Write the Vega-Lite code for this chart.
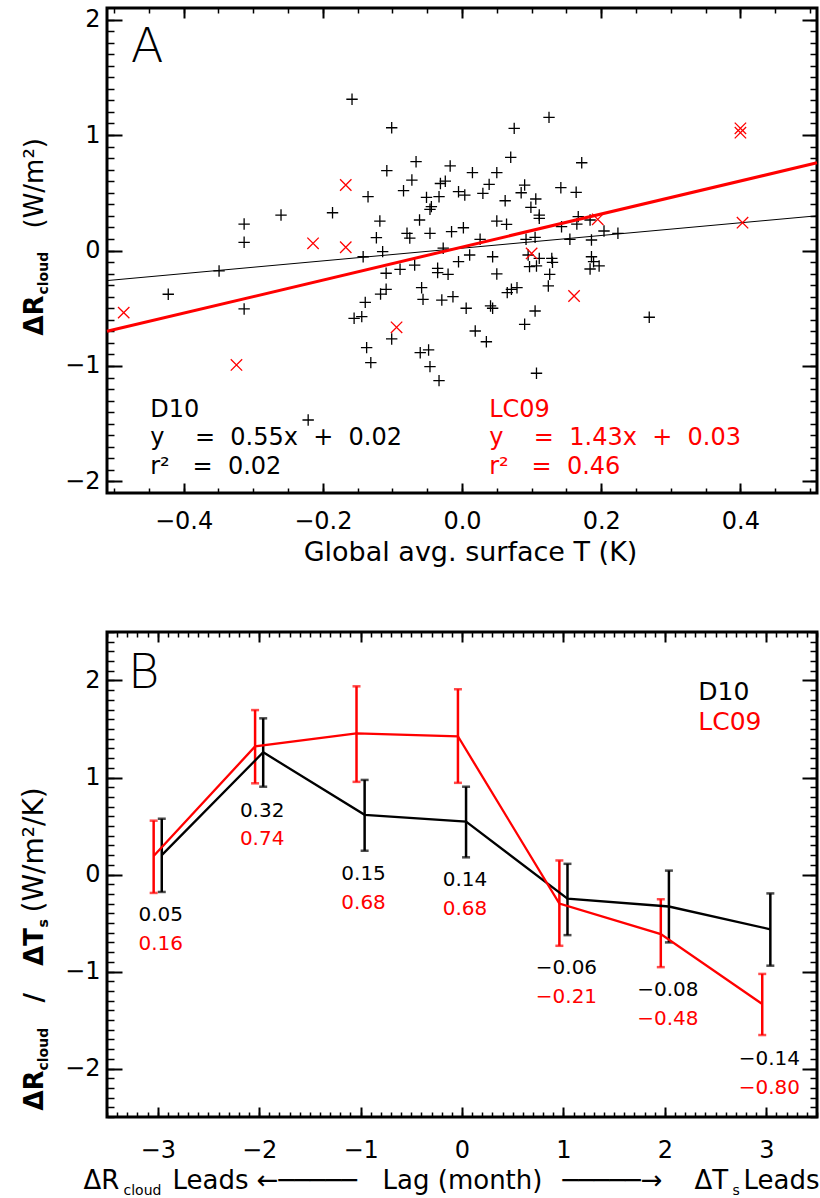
{
"$schema":"https://vega.github.io/schema/vega-lite/v6.json",
"autosize":{"type":"none"},
"padding":{"left":107,"top":8,"right":713,"bottom":1190},
"background":"white",
"spacing":139,
"bounds":"flush",
"config":{
 "view":{"stroke":"black","strokeWidth":3},
 "axis":{"grid":false,"domain":false,"labelFont":"DejaVu Sans","titleFont":"DejaVu Sans","labelColor":"black","titleColor":"black","tickColor":"black","labelFontSize":24,"titleFontSize":26,"titleFontWeight":"normal","labelFlush":false,"labelOverlap":false},
 "text":{"font":"DejaVu Sans"}
},
"vconcat":[
{
 "width":710,"height":485,
 "resolve":{"axis":{"x":"independent","y":"independent"}},
 "layer":[
  {
   "data":{"values":[
{"x":-0.158,"y":1.31},{"x":-0.101,"y":1.063},{"x":-0.066,"y":0.769},{"x":-0.017,"y":0.732},{"x":-0.108,"y":0.691},{"x":-0.072,"y":0.61},{"x":-0.024,"y":0.6},{"x":-0.031,"y":0.58},{"x":-0.084,"y":0.518},{"x":-0.005,"y":0.509},{"x":-0.135,"y":0.466},{"x":-0.051,"y":0.46},{"x":-0.033,"y":0.466},{"x":-0.044,"y":0.38},{"x":-0.046,"y":0.357},{"x":-0.186,"y":0.327},{"x":-0.26,"y":0.307},{"x":-0.061,"y":0.264},{"x":-0.118,"y":0.255},{"x":-0.313,"y":0.229},{"x":-0.079,"y":0.149},{"x":-0.046,"y":0.149},{"x":-0.015,"y":0.163},{"x":-0.075,"y":0.108},{"x":-0.123,"y":0.111},{"x":-0.313,"y":0.071},{"x":-0.114,"y":-0.01},{"x":-0.142,"y":-0.054},
{"x":0.125,"y":1.153},{"x":0.075,"y":1.058},{"x":0.07,"y":0.807},{"x":0.172,"y":0.76},{"x":0.015,"y":0.674},{"x":0.05,"y":0.674},{"x":0.039,"y":0.573},{"x":0.09,"y":0.567},{"x":0.142,"y":0.544},{"x":0.004,"y":0.48},{"x":0.03,"y":0.495},{"x":0.085,"y":0.5},{"x":0.164,"y":0.504},{"x":0.106,"y":0.446},{"x":0.062,"y":0.431},{"x":0.099,"y":0.374},{"x":0.111,"y":0.307},{"x":0.111,"y":0.279},{"x":0.05,"y":0.255},{"x":0.064,"y":0.227},{"x":0.167,"y":0.293},{"x":0.184,"y":0.264},{"x":0.143,"y":0.206},{"x":0.165,"y":0.229},{"x":0.002,"y":0.197},{"x":0.204,"y":0.169},{"x":0.224,"y":0.149},{"x":0.026,"y":0.097},{"x":0.092,"y":0.097},{"x":0.105,"y":0.114},{"x":0.155,"y":0.097},{"x":0.186,"y":0.091},{"x":-0.027,"y":0.02},{"x":0.011,"y":-0.039},{"x":0.044,"y":-0.054},{"x":0.129,"y":-0.068},{"x":0.186,"y":-0.054},
{"x":-0.349,"y":-0.177},{"x":-0.422,"y":-0.379},{"x":-0.313,"y":-0.506},{"x":-0.109,"y":-0.197},{"x":-0.089,"y":-0.163},{"x":-0.068,"y":-0.126},{"x":-0.035,"y":-0.154},{"x":-0.035,"y":-0.192},{"x":-0.02,"y":-0.206},{"x":-0.005,"y":-0.097},{"x":-0.058,"y":-0.322},{"x":-0.056,"y":-0.423},{"x":-0.139,"y":-0.449},{"x":-0.109,"y":-0.336},{"x":-0.117,"y":-0.377},{"x":-0.155,"y":-0.587},{"x":-0.144,"y":-0.573},{"x":-0.101,"y":-0.766},{"x":-0.137,"y":-0.841},{"x":-0.131,"y":-0.971},{"x":-0.06,"y":-0.885},{"x":-0.048,"y":-0.861},{"x":-0.046,"y":-1.006},{"x":-0.033,"y":-1.127},{"x":-0.029,"y":-0.429},{"x":-0.013,"y":-0.4},{"x":-0.221,"y":-1.468},
{"x":0.05,"y":-0.203},{"x":0.097,"y":-0.14},{"x":0.107,"y":-0.134},{"x":0.13,"y":-0.102},{"x":0.126,"y":-0.206},{"x":0.124,"y":-0.307},{"x":0.189,"y":-0.097},{"x":0.184,"y":-0.16},{"x":0.197,"y":-0.134},{"x":0.006,"y":-0.5},{"x":0.041,"y":-0.48},{"x":0.044,"y":-0.5},{"x":0.065,"y":-0.365},{"x":0.071,"y":-0.336},{"x":0.079,"y":-0.322},{"x":0.105,"y":-0.524},{"x":0.09,"y":-0.639},{"x":0.019,"y":-0.697},{"x":0.035,"y":-0.79},{"x":0.107,"y":-1.063},{"x":0.269,"y":-0.578},{"x":0.095,"y":-0.039},{"x":0.111,"y":-0.068}
   ]},
   "mark":{"type":"point","shape":"M-1,0H1M0,-1V1","filled":false,"stroke":"black","strokeWidth":1.3,"size":130,"opacity":1},
   "encoding":{
    "x":{"field":"x","type":"quantitative","scale":{"domain":[-0.51,0.51],"nice":false,"zero":false},
     "axis":{"orient":"bottom","values":[-0.4,-0.2,0,0.2,0.4],"format":".1f","ticks":false,"labelPadding":16,"title":"Global avg. surface T (K)","titleFontSize":27,"titleX":363,"titleY":67,"titleAlign":"center","titleBaseline":"alphabetic","titleAngle":0}},
    "y":{"field":"y","type":"quantitative","scale":{"domain":[-2.1,2.1],"nice":false,"zero":false},
     "axis":{"orient":"left","values":[-2,-1,0,1,2],"format":"d","ticks":false,"labelPadding":7,"title":"ΔR","titleFontWeight":"bold","titleFontSize":26,"titleX":-65,"titleY":327,"titleAngle":-90,"titleAlign":"left","titleBaseline":"alphabetic"}}
   }
  },
  {
   "data":{"values":[{"x":-0.51,"y":-0.2605},{"x":0.51,"y":0.3005}]},
   "mark":{"type":"line","color":"black","strokeWidth":1},
   "encoding":{
    "x":{"field":"x","type":"quantitative","scale":{"domain":[-0.51,0.51],"nice":false,"zero":false},
     "axis":{"orient":"bottom","values":[-0.4,-0.2,0,0.2,0.4],"labels":false,"tickSize":10,"offset":-10,"tickWidth":2,"title":null}},
    "y":{"field":"y","type":"quantitative","scale":{"domain":[-2.1,2.1],"nice":false,"zero":false},
     "axis":{"orient":"left","values":[-2,-1,0,1,2],"labels":false,"tickSize":15,"offset":-15,"tickWidth":2,"title":"cloud","titleFontWeight":"bold","titleFontSize":14,"titleX":-75,"titleY":286,"titleAngle":-90,"titleAlign":"left","titleBaseline":"alphabetic"}}
   }
  },
  {
   "data":{"values":[{"x":-0.51,"y":-0.7},{"x":0.51,"y":0.7593}]},
   "mark":{"type":"line","color":"#ff0000","strokeWidth":3},
   "encoding":{
    "x":{"field":"x","type":"quantitative","scale":{"domain":[-0.51,0.51],"nice":false,"zero":false},
     "axis":{"orient":"bottom","values":[-0.5,-0.45,-0.4,-0.35,-0.3,-0.25,-0.2,-0.15,-0.1,-0.05,0,0.05,0.1,0.15,0.2,0.25,0.3,0.35,0.4,0.45,0.5],"labels":false,"tickSize":5,"offset":-5,"tickWidth":1.5,"title":null}},
    "y":{"field":"y","type":"quantitative","scale":{"domain":[-2.1,2.1],"nice":false,"zero":false},
     "axis":{"orient":"left","values":[-2,-1.9,-1.8,-1.7,-1.6,-1.5,-1.4,-1.3,-1.2,-1.1,-1,-0.9,-0.8,-0.7,-0.6,-0.5,-0.4,-0.3,-0.2,-0.1,0,0.1,0.2,0.3,0.4,0.5,0.6,0.7,0.8,0.9,1,1.1,1.2,1.3,1.4,1.5,1.6,1.7,1.8,1.9,2],"labels":false,"tickSize":7,"offset":-7,"tickWidth":1.5,"title":"(W/m²)","titleFontSize":26,"titleX":-72,"titleY":220,"titleAngle":-90,"titleAlign":"left","titleBaseline":"alphabetic"}}
   }
  },
  {
   "data":{"values":[{"x":-0.167,"y":0.567},{"x":-0.214,"y":0.062},{"x":-0.167,"y":0.028},{"x":0.4,"y":1.058},{"x":0.4,"y":1.02},{"x":0.403,"y":0.241},{"x":0.195,"y":0.27},{"x":0.1,"y":-0.025},{"x":-0.486,"y":-0.538},{"x":-0.324,"y":-0.991},{"x":-0.094,"y":-0.665},{"x":0.161,"y":-0.394}]},
   "mark":{"type":"point","shape":"M-1,-1L1,1M-1,1L1,-1","filled":false,"stroke":"#ff0000","strokeWidth":1.3,"size":130,"opacity":1},
   "encoding":{
    "x":{"field":"x","type":"quantitative","scale":{"domain":[-0.51,0.51],"nice":false,"zero":false},
     "axis":{"orient":"top","values":[-0.4,-0.2,0,0.2,0.4],"labels":false,"tickSize":10,"offset":-10,"tickWidth":2,"title":null}},
    "y":{"field":"y","type":"quantitative","scale":{"domain":[-2.1,2.1],"nice":false,"zero":false},
     "axis":{"orient":"right","values":[-2,-1,0,1,2],"labels":false,"tickSize":15,"offset":-15,"tickWidth":2,"title":null}}
   }
  },
  {
   "data":{"values":[
    {"series":"D10","x":-0.448,"y":-1.439,"label":"D10"},
    {"series":"D10","x":-0.448,"y":-1.684,"label":"y\u00a0\u00a0\u00a0\u00a0=\u00a0\u00a00.55x\u00a0\u00a0+\u00a0\u00a00.02"},
    {"series":"D10","x":-0.448,"y":-1.935,"label":"r²\u00a0\u00a0\u00a0=\u00a0\u00a00.02"},
    {"series":"LC09","x":0.039,"y":-1.439,"label":"LC09"},
    {"series":"LC09","x":0.039,"y":-1.684,"label":"y\u00a0\u00a0\u00a0\u00a0=\u00a0\u00a01.43x\u00a0\u00a0+\u00a0\u00a00.03"},
    {"series":"LC09","x":0.039,"y":-1.935,"label":"r²\u00a0\u00a0\u00a0=\u00a0\u00a00.46"}
   ]},
   "mark":{"type":"text","fontSize":24,"align":"left","baseline":"alphabetic","font":"DejaVu Sans"},
   "encoding":{
    "x":{"field":"x","type":"quantitative","scale":{"domain":[-0.51,0.51],"nice":false,"zero":false},
     "axis":{"orient":"top","values":[-0.5,-0.45,-0.4,-0.35,-0.3,-0.25,-0.2,-0.15,-0.1,-0.05,0,0.05,0.1,0.15,0.2,0.25,0.3,0.35,0.4,0.45,0.5],"labels":false,"tickSize":5,"offset":-5,"tickWidth":1.5,"title":null}},
    "y":{"field":"y","type":"quantitative","scale":{"domain":[-2.1,2.1],"nice":false,"zero":false},
     "axis":{"orient":"right","values":[-2,-1.9,-1.8,-1.7,-1.6,-1.5,-1.4,-1.3,-1.2,-1.1,-1,-0.9,-0.8,-0.7,-0.6,-0.5,-0.4,-0.3,-0.2,-0.1,0,0.1,0.2,0.3,0.4,0.5,0.6,0.7,0.8,0.9,1,1.1,1.2,1.3,1.4,1.5,1.6,1.7,1.8,1.9,2],"labels":false,"tickSize":7,"offset":-7,"tickWidth":1.5,"title":null}},
    "text":{"field":"label"},
    "color":{"field":"series","type":"nominal","scale":{"domain":["D10","LC09"],"range":["black","#ff0000"]},"legend":null}
   }
  },
  {
   "data":{"values":[{"x":-0.476,"y":1.635,"label":"A"}]},
   "mark":{"type":"text","fontSize":48,"fontWeight":200,"align":"left","baseline":"alphabetic","color":"black","font":"DejaVu Sans"},
   "encoding":{
    "x":{"field":"x","type":"quantitative","scale":{"domain":[-0.51,0.51],"nice":false,"zero":false},"axis":null},
    "y":{"field":"y","type":"quantitative","scale":{"domain":[-2.1,2.1],"nice":false,"zero":false},"axis":null},
    "text":{"field":"label"}
   }
  }
 ]
},
{
 "width":710,"height":485,
 "resolve":{"axis":{"x":"independent","y":"independent"}},
 "layer":[
  {
   "mark":{"type":"rule","strokeDash":[13,7],"strokeWidth":1.2,"color":"black"},
   "encoding":{"y":{"datum":0,"type":"quantitative","scale":{"domain":[-2.5,2.5],"nice":false,"zero":false},"axis":null}}
  },
  {
   "mark":{"type":"rule","strokeDash":[13,7],"strokeWidth":1.2,"color":"black"},
   "encoding":{"x":{"datum":0,"type":"quantitative","scale":{"domain":[-3.5,3.5],"nice":false,"zero":false},"axis":null}}
  },
  {
   "data":{"name":"eb","values":[
    {"series":"D10","x":-2.96,"v":0.2,"lo":-0.18,"hi":0.575},
    {"series":"D10","x":-1.96,"v":1.26,"lo":0.905,"hi":1.61},
    {"series":"D10","x":-0.96,"v":0.615,"lo":0.245,"hi":0.975},
    {"series":"D10","x":0.04,"v":0.545,"lo":0.177,"hi":0.905},
    {"series":"D10","x":1.04,"v":-0.25,"lo":-0.625,"hi":0.11},
    {"series":"D10","x":2.04,"v":-0.33,"lo":-0.7,"hi":0.04},
    {"series":"D10","x":3.04,"v":-0.565,"lo":-0.94,"hi":-0.195},
    {"series":"LC09","x":-3.04,"v":0.19,"lo":-0.19,"hi":0.555},
    {"series":"LC09","x":-2.04,"v":1.32,"lo":0.94,"hi":1.695},
    {"series":"LC09","x":-1.04,"v":1.455,"lo":0.955,"hi":1.94},
    {"series":"LC09","x":-0.04,"v":1.425,"lo":0.945,"hi":1.91},
    {"series":"LC09","x":0.96,"v":-0.3,"lo":-0.735,"hi":0.145},
    {"series":"LC09","x":1.96,"v":-0.615,"lo":-0.955,"hi":-0.255},
    {"series":"LC09","x":2.96,"v":-1.335,"lo":-1.655,"hi":-1.025}
   ]},
   "mark":{"type":"rule","strokeWidth":2.5},
   "encoding":{
    "x":{"field":"x","type":"quantitative","scale":{"domain":[-3.5,3.5],"nice":false,"zero":false},
     "axis":{"orient":"bottom","values":[-3,-2,-1,0,1,2,3],"format":"d","ticks":false,"labelPadding":21,"title":"ΔR","titleFontSize":26,"titleX":-24,"titleY":71,"titleAlign":"left","titleBaseline":"alphabetic","titleAngle":0}},
    "y":{"field":"lo","type":"quantitative","scale":{"domain":[-2.5,2.5],"nice":false,"zero":false},
     "axis":{"orient":"left","values":[-2,-1,0,1,2],"format":"d","ticks":false,"labelPadding":7,"title":"ΔR","titleFontWeight":"bold","titleFontSize":26,"titleX":-65,"titleY":478,"titleAngle":-90,"titleAlign":"left","titleBaseline":"alphabetic"}},
    "y2":{"field":"hi"},
    "color":{"field":"series","type":"nominal","scale":{"domain":["D10","LC09"],"range":["black","#ff0000"]},"legend":null}
   }
  },
  {
   "data":{"name":"eb"},
   "mark":{"type":"tick","orient":"horizontal","size":8,"thickness":2.5},
   "encoding":{
    "x":{"field":"x","type":"quantitative","scale":{"domain":[-3.5,3.5],"nice":false,"zero":false},
     "axis":{"orient":"bottom","values":[-3,-2,-1,0,1,2,3],"labels":false,"tickSize":10,"offset":-10,"tickWidth":2,"title":"cloud","titleFontSize":14,"titleX":16,"titleY":87,"titleAlign":"left","titleBaseline":"alphabetic","titleAngle":0}},
    "y":{"field":"lo","type":"quantitative","scale":{"domain":[-2.5,2.5],"nice":false,"zero":false},
     "axis":{"orient":"left","values":[-2,-1,0,1,2],"labels":false,"tickSize":15,"offset":-15,"tickWidth":2,"title":"cloud","titleFontWeight":"bold","titleFontSize":14,"titleX":-75,"titleY":438,"titleAngle":-90,"titleAlign":"left","titleBaseline":"alphabetic"}},
    "color":{"field":"series","type":"nominal","scale":{"domain":["D10","LC09"],"range":["black","#ff0000"]},"legend":null}
   }
  },
  {
   "data":{"name":"eb"},
   "mark":{"type":"tick","orient":"horizontal","size":8,"thickness":2.5},
   "encoding":{
    "x":{"field":"x","type":"quantitative","scale":{"domain":[-3.5,3.5],"nice":false,"zero":false},
     "axis":{"orient":"bottom","values":[-3.5,-3.4,-3.3,-3.2,-3.1,-3,-2.9,-2.8,-2.7,-2.6,-2.5,-2.4,-2.3,-2.2,-2.1,-2,-1.9,-1.8,-1.7,-1.6,-1.5,-1.4,-1.3,-1.2,-1.1,-1,-0.9,-0.8,-0.7,-0.6,-0.5,-0.4,-0.3,-0.2,-0.1,0,0.1,0.2,0.3,0.4,0.5,0.6,0.7,0.8,0.9,1,1.1,1.2,1.3,1.4,1.5,1.6,1.7,1.8,1.9,2,2.1,2.2,2.3,2.4,2.5,2.6,2.7,2.8,2.9,3,3.1,3.2,3.3,3.4,3.5],"labels":false,"tickSize":5,"offset":-5,"tickWidth":1.5,"title":"Leads\u00a0←─────","titleFontSize":26,"titleX":65,"titleY":76,"titleAlign":"left","titleBaseline":"alphabetic","titleAngle":0}},
    "y":{"field":"hi","type":"quantitative","scale":{"domain":[-2.5,2.5],"nice":false,"zero":false},
     "axis":{"orient":"left","values":[-2.5,-2.4,-2.3,-2.2,-2.1,-2,-1.9,-1.8,-1.7,-1.6,-1.5,-1.4,-1.3,-1.2,-1.1,-1,-0.9,-0.8,-0.7,-0.6,-0.5,-0.4,-0.3,-0.2,-0.1,0,0.1,0.2,0.3,0.4,0.5,0.6,0.7,0.8,0.9,1,1.1,1.2,1.3,1.4,1.5,1.6,1.7,1.8,1.9,2,2.1,2.2,2.3,2.4,2.5],"labels":false,"tickSize":7,"offset":-7,"tickWidth":1.5,"title":"/\u00a0\u00a0\u00a0ΔT","titleFontWeight":"bold","titleFontSize":26,"titleX":-72,"titleY":370,"titleAngle":-90,"titleAlign":"left","titleBaseline":"alphabetic"}},
    "color":{"field":"series","type":"nominal","scale":{"domain":["D10","LC09"],"range":["black","#ff0000"]},"legend":null}
   }
  },
  {
   "data":{"name":"eb"},
   "mark":{"type":"line","strokeWidth":2.3},
   "encoding":{
    "x":{"field":"x","type":"quantitative","scale":{"domain":[-3.5,3.5],"nice":false,"zero":false},
     "axis":{"orient":"top","values":[-3,-2,-1,0,1,2,3],"labels":false,"tickSize":10,"offset":-10,"tickWidth":2,"title":"Lag (month)","titleFontSize":26,"titleX":355,"titleY":546,"titleAlign":"center","titleBaseline":"alphabetic","titleAngle":0}},
    "y":{"field":"v","type":"quantitative","scale":{"domain":[-2.5,2.5],"nice":false,"zero":false},
     "axis":{"orient":"right","values":[-2,-1,0,1,2],"labels":false,"tickSize":15,"offset":-15,"tickWidth":2,"title":"s","titleFontWeight":"bold","titleFontSize":14,"titleX":-755,"titleY":295,"titleAngle":-90,"titleAlign":"left","titleBaseline":"alphabetic"}},
    "color":{"field":"series","type":"nominal","scale":{"domain":["D10","LC09"],"range":["black","#ff0000"]},"legend":null}
   }
  },
  {
   "data":{"values":[
    {"series":"D10","x":-3,"y":-0.42,"label":"0.05"},
    {"series":"D10","x":-2,"y":0.657,"label":"0.32"},
    {"series":"D10","x":-1,"y":0.005,"label":"0.15"},
    {"series":"D10","x":0,"y":-0.06,"label":"0.14"},
    {"series":"D10","x":1,"y":-0.96,"label":"−0.06"},
    {"series":"D10","x":2,"y":-1.19,"label":"−0.08"},
    {"series":"D10","x":3,"y":-1.9,"label":"−0.14"}
   ]},
   "mark":{"type":"text","fontSize":20,"align":"center","baseline":"middle","dx":3,"color":"black","font":"DejaVu Sans"},
   "encoding":{
    "x":{"field":"x","type":"quantitative","scale":{"domain":[-3.5,3.5],"nice":false,"zero":false},
     "axis":{"orient":"top","values":[-3.5,-3.4,-3.3,-3.2,-3.1,-3,-2.9,-2.8,-2.7,-2.6,-2.5,-2.4,-2.3,-2.2,-2.1,-2,-1.9,-1.8,-1.7,-1.6,-1.5,-1.4,-1.3,-1.2,-1.1,-1,-0.9,-0.8,-0.7,-0.6,-0.5,-0.4,-0.3,-0.2,-0.1,0,0.1,0.2,0.3,0.4,0.5,0.6,0.7,0.8,0.9,1,1.1,1.2,1.3,1.4,1.5,1.6,1.7,1.8,1.9,2,2.1,2.2,2.3,2.4,2.5,2.6,2.7,2.8,2.9,3,3.1,3.2,3.3,3.4,3.5],"labels":false,"tickSize":5,"offset":-5,"tickWidth":1.5,"title":"─────→","titleFontSize":26,"titleX":455,"titleY":551,"titleAlign":"left","titleBaseline":"alphabetic","titleAngle":0}},
    "y":{"field":"y","type":"quantitative","scale":{"domain":[-2.5,2.5],"nice":false,"zero":false},
     "axis":{"orient":"right","values":[-2.5,-2.4,-2.3,-2.2,-2.1,-2,-1.9,-1.8,-1.7,-1.6,-1.5,-1.4,-1.3,-1.2,-1.1,-1,-0.9,-0.8,-0.7,-0.6,-0.5,-0.4,-0.3,-0.2,-0.1,0,0.1,0.2,0.3,0.4,0.5,0.6,0.7,0.8,0.9,1,1.1,1.2,1.3,1.4,1.5,1.6,1.7,1.8,1.9,2,2.1,2.2,2.3,2.4,2.5],"labels":false,"tickSize":7,"offset":-7,"tickWidth":1.5,"title":"(W/m²/K)","titleFontSize":28,"titleX":-768,"titleY":280,"titleAngle":-90,"titleAlign":"left","titleBaseline":"alphabetic"}},
    "text":{"field":"label"}
   }
  },
  {
   "data":{"values":[
    {"series":"LC09","x":-3,"y":-0.72,"label":"0.16"},
    {"series":"LC09","x":-2,"y":0.366,"label":"0.74"},
    {"series":"LC09","x":-1,"y":-0.29,"label":"0.68"},
    {"series":"LC09","x":0,"y":-0.36,"label":"0.68"},
    {"series":"LC09","x":1,"y":-1.26,"label":"−0.21"},
    {"series":"LC09","x":2,"y":-1.49,"label":"−0.48"},
    {"series":"LC09","x":3,"y":-2.2,"label":"−0.80"}
   ]},
   "mark":{"type":"text","fontSize":20,"align":"center","baseline":"middle","dx":3,"color":"#ff0000","font":"DejaVu Sans"},
   "encoding":{
    "x":{"field":"x","type":"quantitative","scale":{"domain":[-3.5,3.5],"nice":false,"zero":false},
     "axis":{"orient":"bottom","ticks":false,"labels":false,"title":"ΔT","titleFontSize":26,"titleX":587,"titleY":71,"titleAlign":"left","titleBaseline":"alphabetic","titleAngle":0}},
    "y":{"field":"y","type":"quantitative","scale":{"domain":[-2.5,2.5],"nice":false,"zero":false},"axis":null},
    "text":{"field":"label"}
   }
  },
  {
   "data":{"values":[{"series":"D10","x":2.33,"y":1.8,"label":"D10"}]},
   "mark":{"type":"text","fontSize":25,"align":"left","baseline":"alphabetic","color":"black","font":"DejaVu Sans"},
   "encoding":{
    "x":{"field":"x","type":"quantitative","scale":{"domain":[-3.5,3.5],"nice":false,"zero":false},
     "axis":{"orient":"bottom","ticks":false,"labels":false,"title":"s","titleFontSize":14,"titleX":625,"titleY":77,"titleAlign":"left","titleBaseline":"alphabetic","titleAngle":0}},
    "y":{"field":"y","type":"quantitative","scale":{"domain":[-2.5,2.5],"nice":false,"zero":false},"axis":null},
    "text":{"field":"label"}
   }
  },
  {
   "data":{"values":[{"series":"LC09","x":2.33,"y":1.49,"label":"LC09"}]},
   "mark":{"type":"text","fontSize":25,"align":"left","baseline":"alphabetic","color":"#ff0000","font":"DejaVu Sans"},
   "encoding":{
    "x":{"field":"x","type":"quantitative","scale":{"domain":[-3.5,3.5],"nice":false,"zero":false},
     "axis":{"orient":"bottom","ticks":false,"labels":false,"title":"Leads","titleFontSize":26,"titleX":636,"titleY":71,"titleAlign":"left","titleBaseline":"alphabetic","titleAngle":0}},
    "y":{"field":"y","type":"quantitative","scale":{"domain":[-2.5,2.5],"nice":false,"zero":false},"axis":null},
    "text":{"field":"label"}
   }
  },
  {
   "data":{"values":[{"x":-3.293,"y":1.923,"label":"B"}]},
   "mark":{"type":"text","fontSize":48,"fontWeight":200,"align":"left","baseline":"alphabetic","color":"black","font":"DejaVu Sans"},
   "encoding":{
    "x":{"field":"x","type":"quantitative","scale":{"domain":[-3.5,3.5],"nice":false,"zero":false},"axis":null},
    "y":{"field":"y","type":"quantitative","scale":{"domain":[-2.5,2.5],"nice":false,"zero":false},"axis":null},
    "text":{"field":"label"}
   }
  }
 ]
}
]
}
